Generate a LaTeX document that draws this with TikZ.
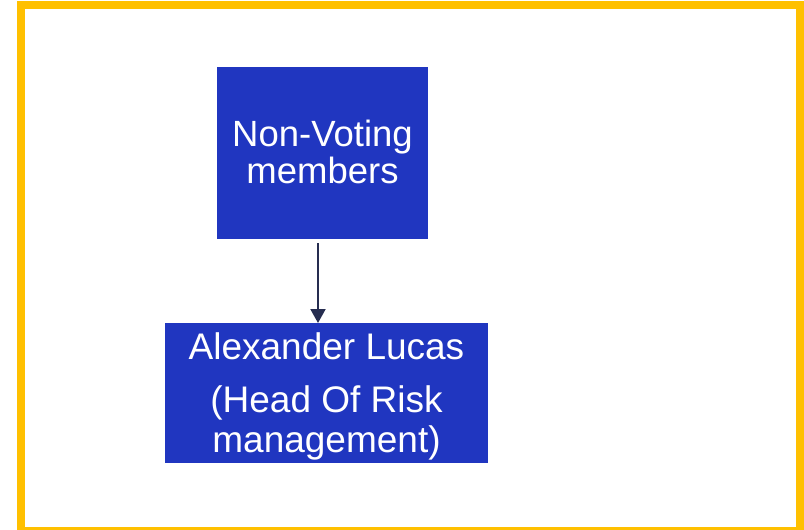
\documentclass[tikz,border=0pt]{standalone}
\usepackage{fontspec}
\setmainfont{Liberation Sans}
\usetikzlibrary{arrows.meta}
\definecolor{boxblue}{RGB}{32,54,192}
\definecolor{framegold}{RGB}{255,192,0}
\definecolor{arrownavy}{RGB}{38,45,80}
\begin{document}
\begin{tikzpicture}[x=1pt,y=-1pt,
  bluebox/.style={draw=none,fill=boxblue,text=white,align=center,inner sep=0pt},
  conn/.style={draw=arrownavy,line width=2pt,-{Triangle[width=15pt,length=14pt]}}]
\useasboundingbox (0,0) rectangle (804,530);
\draw[framegold,line width=8pt] (21,5) rectangle (799.5,531);
\node[bluebox,minimum width=211pt,minimum height=172pt] (nv) at (322.5,153) {};
\node[text=white,align=center,inner sep=0pt,anchor=base,font=\fontsize{36.5}{37}\selectfont] (nvt) at (322.5,183)
  {Non-Voting\\members};
\node[bluebox,minimum width=323pt,minimum height=140pt] (al) at (326.5,393) {};
\node[text=white,align=center,inner sep=0pt,anchor=base,font=\fontsize{37}{40}\selectfont] (alt) at (326.5,452)
  {Alexander Lucas\\[13pt](Head Of Risk\\management)};
\coordinate (s) at (318,243);
\coordinate (e) at (318,323);
\draw[conn] (s) -- (e);
\end{tikzpicture}
\end{document}
